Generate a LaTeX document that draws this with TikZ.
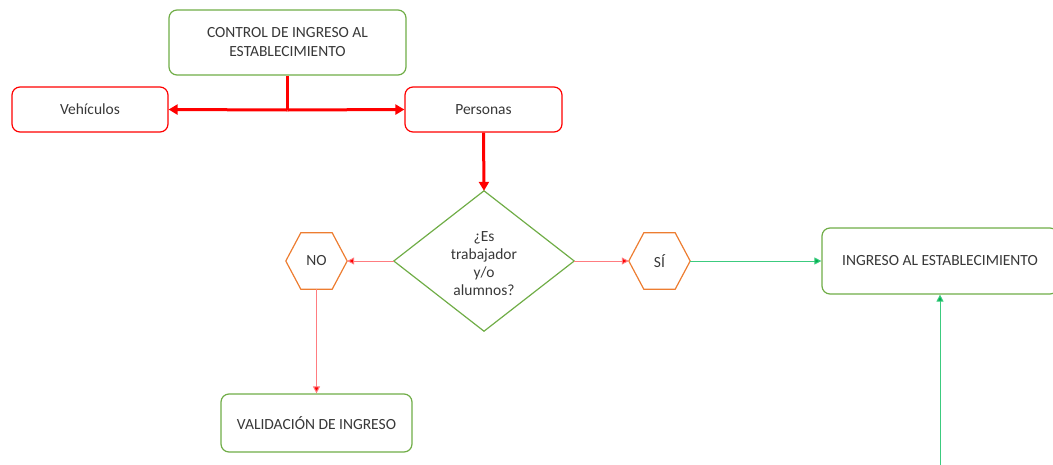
\documentclass[tikz,border=0pt]{standalone}
\usepackage{fontspec}
\setmainfont{Carlito}
\usetikzlibrary{arrows.meta}
\definecolor{grn}{HTML}{70AD47}
\definecolor{rd}{HTML}{FF0000}
\definecolor{lrd}{HTML}{FF7C80}
\definecolor{org}{HTML}{ED7D31}
\definecolor{lgrn}{HTML}{3CCB7F}
\definecolor{dgrn}{HTML}{00B050}
\definecolor{txt}{HTML}{383838}
\tikzset{
  box/.style={draw, rounded corners=8pt, line width=1.2pt, fill=white, text=txt, align=center,
    font=\fontsize{15.5}{19}\selectfont, inner sep=0pt},
  gbox/.style={box, draw=grn},
  rbox/.style={box, draw=rd},
  ghost/.style={inner sep=0pt, text=txt, align=center, font=\fontsize{15.5}{18}\selectfont},
  thick red/.style={draw=rd, line width=3pt, -{Triangle[length=9pt,width=10pt]}},
  thin red/.style={draw=lrd, line width=1pt, -{Triangle[length=7pt,width=7pt,fill=rd]}},
  thin green/.style={draw=lgrn, line width=1pt, -{Triangle[length=7pt,width=7pt,fill=dgrn]}},
}
\begin{document}
\begin{tikzpicture}[x=1pt,y=-1pt]
\useasboundingbox (0,0) rectangle (1053,464);
\clip (0,0) rectangle (1053,464);

\node[gbox, minimum width=237pt, minimum height=65pt] (ctrl) at (287.5,42.5) {CONTROL DE INGRESO AL\\ESTABLECIMIENTO};
\node[rbox, minimum width=156pt, minimum height=45pt] (veh) at (90,109.5) {Vehículos};
\node[rbox, minimum width=157pt, minimum height=45pt] (per) at (483.5,109.5) {Personas};

% diamond
\node[ghost, minimum width=180pt, minimum height=140pt] (dia) at (484,261) {};
\draw[grn, line width=1.2pt] (dia.north) -- (dia.east) -- (dia.south) -- (dia.west) -- cycle;
\node[ghost] at (484,264) {¿Es\\trabajador\\y/o\\alumnos?};

% hexagons
\node[ghost, minimum width=61pt, minimum height=56pt] (no) at (316.5,261) {NO};
\draw[org, line width=1.2pt] (no.west) -- ([xshift=15pt]no.north west) -- ([xshift=-15pt]no.north east) -- (no.east) -- ([xshift=-15pt]no.south east) -- ([xshift=15pt]no.south west) -- cycle;
\node[ghost, minimum width=61pt, minimum height=56pt] (si) at (659.5,261) {SÍ};
\draw[org, line width=1.2pt] (si.west) -- ([xshift=15pt]si.north west) -- ([xshift=-15pt]si.north east) -- (si.east) -- ([xshift=-15pt]si.south east) -- ([xshift=15pt]si.south west) -- cycle;

\node[gbox, minimum width=236pt, minimum height=66pt] (ing) at (940,261) {INGRESO AL ESTABLECIMIENTO};
\node[gbox, minimum width=191pt, minimum height=58pt] (val) at (316.5,423) {VALIDACIÓN DE INGRESO};

\coordinate (split) at (287.5,110);
\coordinate (bot) at (940,470);

% connectors
\draw[draw=rd, line width=3pt] (ctrl.south) -- (split);
\draw[thick red] (split) -- (veh.east);
\draw[thick red] (split) -- (per.west);
\draw[thick red] (per.south) -- (dia.north);
\draw[thin red] (dia.west) -- (no.east);
\draw[thin red] (dia.east) -- (si.west);
\draw[thin red] (no.south) -- (val.north);
\draw[thin green] (si.east) -- (ing.west);
\draw[thin green] (bot) -- (ing.south);
\end{tikzpicture}
\end{document}
